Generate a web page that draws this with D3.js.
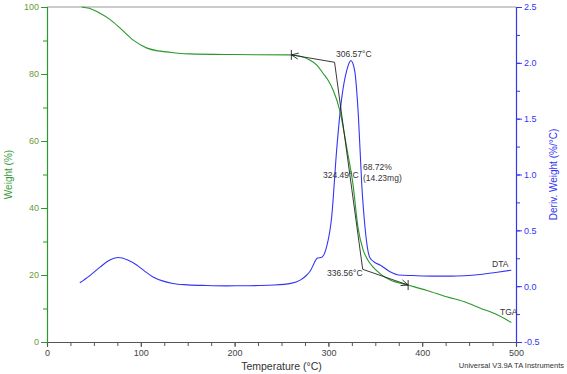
<!DOCTYPE html>
<html>
<head>
<meta charset="utf-8">
<script src="https://cdn.jsdelivr.net/npm/d3@7"></script>
<style>
  body { margin: 0; background: #fff; }
  svg { display: block; font-family: "Liberation Sans", Arial, sans-serif; }
</style>
</head>
<body>
<svg id="chart" width="567" height="374"></svg>
<script>
// TGA weight curve (Temperature °C, Weight %)
const tgaTemp   = [37, 45, 56, 67, 78, 92, 106, 118, 128, 140, 152, 200, 259, 270, 280, 288, 294, 300, 305, 312, 320, 326, 331.5, 337, 342, 347.5, 356, 366, 385, 405, 426, 445, 462, 480, 495];
const tgaWeight = [100, 99.6, 98.2, 96.3, 93.7, 90.1, 87.8, 86.9, 86.6, 86.2, 86.0, 85.8, 85.7, 85.3, 84.2, 82.6, 80.3, 78.0, 75.2, 69.3, 57.3, 47.5, 34.3, 27.5, 24.5, 22.4, 20.2, 18.5, 17.0, 15.4, 13.5, 12.0, 10.1, 8.1, 5.8];

// DTA derivative curve (Temperature °C, Deriv. Weight %/°C)
const dtaTemp  = [35, 45, 56.5, 66, 76, 86, 95.6, 104, 113, 124, 134, 150, 170, 191.5, 215, 241, 260, 270, 277, 281, 285, 288, 293, 298, 303.5, 308.8, 314, 319.5, 324, 328, 332, 335.5, 339, 344, 350, 355, 365.7, 375, 390, 411, 430, 461.6, 480, 495];
const dtaDeriv = [0.03, 0.09, 0.17, 0.23, 0.257, 0.235, 0.19, 0.135, 0.083, 0.045, 0.024, 0.012, 0.006, 0.003, 0.004, 0.01, 0.025, 0.054, 0.1, 0.14, 0.21, 0.25, 0.26, 0.35, 0.62, 1.22, 1.67, 1.93, 2.02, 1.93, 1.52, 0.92, 0.53, 0.26, 0.21, 0.19, 0.13, 0.1, 0.095, 0.09, 0.09, 0.105, 0.125, 0.143];

// onset analysis (tangent construction)
const onsetTemp   = [260.5, 306.57, 336.56, 385];
const onsetWeight = [85.7, 83.5, 21.7, 17.0];

const xTicks = d3.range(0, 501, 100);
const xMinor = d3.range(0, 501, 25);
const yTicks = d3.range(0, 101, 20);
const yMinor = d3.range(0, 101, 10);
const y2Ticks = [-0.5, 0, 0.5, 1, 1.5, 2, 2.5];
const y2Minor = d3.range(-0.5, 2.51, 0.25);

const green = '#2a982a';
const blue = '#3434f5';

const svg = d3.select('#chart');
const margin = { left: 47, right: 51, top: 7, bottom: 32 };
const width = +svg.attr('width');
const height = +svg.attr('height');

const x = d3.scaleLinear().domain([0, 500]).range([margin.left, width - margin.right]);
const y = d3.scaleLinear().domain([0, 100]).range([height - margin.bottom, margin.top]);
const y2 = d3.scaleLinear().domain([-0.5, 2.5]).range([height - margin.bottom, margin.top]);

// top frame line
svg.append('line')
  .attr('x1', x(0)).attr('x2', x(500))
  .attr('y1', y(100)).attr('y2', y(100))
  .attr('stroke', '#9a9a9a').attr('stroke-width', 1.2);

// axes
const styleAxis = (g, color, textColor) => {
  g.selectAll('.domain').attr('stroke', color).attr('stroke-width', 1.2);
  g.selectAll('.tick line').attr('stroke', color);
  g.selectAll('.tick text').attr('fill', textColor).style('font-size', '9px');
};

svg.append('g')
  .attr('transform', `translate(0,${y(0)})`)
  .call(d3.axisBottom(x).tickValues(xMinor).tickFormat('').tickSize(4))
  .call(g => styleAxis(g, '#555', '#444'));
svg.append('g')
  .attr('transform', `translate(0,${y(0)})`)
  .call(d3.axisBottom(x).tickValues(xTicks).tickSize(5).tickPadding(3))
  .call(g => g.select('.domain').remove())
  .call(g => styleAxis(g, '#555', '#444'));

svg.append('g')
  .attr('transform', `translate(${x(0)},0)`)
  .call(d3.axisLeft(y).tickValues(yMinor).tickFormat('').tickSize(4))
  .call(g => styleAxis(g, green, '#6a9a3a'));
svg.append('g')
  .attr('transform', `translate(${x(0)},0)`)
  .call(d3.axisLeft(y).tickValues(yTicks).tickSize(6).tickPadding(2))
  .call(g => g.select('.domain').remove())
  .call(g => styleAxis(g, green, '#6a9a3a'));

svg.append('g')
  .attr('transform', `translate(${x(500)},0)`)
  .call(d3.axisRight(y2).tickValues(y2Minor).tickFormat('').tickSize(4))
  .call(g => styleAxis(g, blue, blue));
svg.append('g')
  .attr('transform', `translate(${x(500)},0)`)
  .call(d3.axisRight(y2).tickValues(y2Ticks).tickSize(6).tickPadding(2).tickFormat(d => d.toFixed(1)))
  .call(g => g.select('.domain').remove())
  .call(g => styleAxis(g, blue, blue));

// axis titles
svg.append('text')
  .attr('x', (x(0) + x(500)) / 2).attr('y', 370)
  .attr('text-anchor', 'middle')
  .attr('fill', '#333').style('font-size', '10.5px')
  .text('Temperature (°C)');

svg.append('text')
  .attr('transform', `translate(12,${(y(0) + y(100)) / 2}) rotate(-90)`)
  .attr('text-anchor', 'middle')
  .attr('fill', '#3a9a3a').style('font-size', '10px')
  .text('Weight (%)');

svg.append('text')
  .attr('transform', `translate(557,${(y(0) + y(100)) / 2}) rotate(-90)`)
  .attr('text-anchor', 'middle')
  .attr('fill', blue).style('font-size', '10px')
  .text('Deriv. Weight (%/°C)');

svg.append('text')
  .attr('x', 564).attr('y', 368)
  .attr('text-anchor', 'end')
  .attr('fill', '#333').style('font-size', '7.5px')
  .text('Universal V3.9A TA Instruments');

// curves
const tgaData = tgaTemp.map((t, i) => [t, tgaWeight[i]]);
const dtaData = dtaTemp.map((t, i) => [t, dtaDeriv[i]]);

svg.append('path')
  .datum(dtaData)
  .attr('fill', 'none').attr('stroke', blue).attr('stroke-width', 1.1)
  .attr('d', d3.line().x(d => x(d[0])).y(d => y2(d[1])).curve(d3.curveMonotoneX));

svg.append('path')
  .datum(tgaData)
  .attr('fill', 'none').attr('stroke', green).attr('stroke-width', 1.1)
  .attr('d', d3.line().x(d => x(d[0])).y(d => y(d[1])).curve(d3.curveMonotoneX));

// tangent construction
const pts = onsetTemp.map((t, i) => [x(t), y(onsetWeight[i])]);
svg.append('path')
  .attr('fill', 'none').attr('stroke', '#222').attr('stroke-width', 0.9)
  .attr('d', d3.line()(pts));

// arrow ends with a bar: tip at p, coming from q
const arrowEnd = (p, q) => {
  const dx = p[0] - q[0], dy = p[1] - q[1];
  const len = Math.hypot(dx, dy);
  const ux = dx / len, uy = dy / len;
  const a = 7, w = 3;
  const path = d3.path();
  path.moveTo(p[0] - ux * a - uy * w, p[1] - uy * a + ux * w);
  path.lineTo(p[0], p[1]);
  path.lineTo(p[0] - ux * a + uy * w, p[1] - uy * a - ux * w);
  path.moveTo(p[0], p[1] - 5);
  path.lineTo(p[0], p[1] + 5);
  svg.append('path')
    .attr('fill', 'none').attr('stroke', '#222').attr('stroke-width', 0.9)
    .attr('d', path.toString());
};
arrowEnd(pts[0], pts[1]);
arrowEnd(pts[3], pts[2]);

// annotations
const labels = [
  { text: '306.57°C', x: 336, y: 57 },
  { text: '324.49°C', x: 323, y: 178 },
  { text: '68.72%', x: 363, y: 170 },
  { text: '(14.23mg)', x: 363, y: 181 },
  { text: '336.56°C', x: 327, y: 276 },
  { text: 'DTA', x: 492, y: 267 },
  { text: 'TGA', x: 500, y: 315 }
];
svg.append('g').selectAll('text')
  .data(labels)
  .join('text')
  .attr('x', d => d.x).attr('y', d => d.y)
  .attr('fill', '#333').style('font-size', '8.5px')
  .text(d => d.text);
</script>
</body>
</html>
